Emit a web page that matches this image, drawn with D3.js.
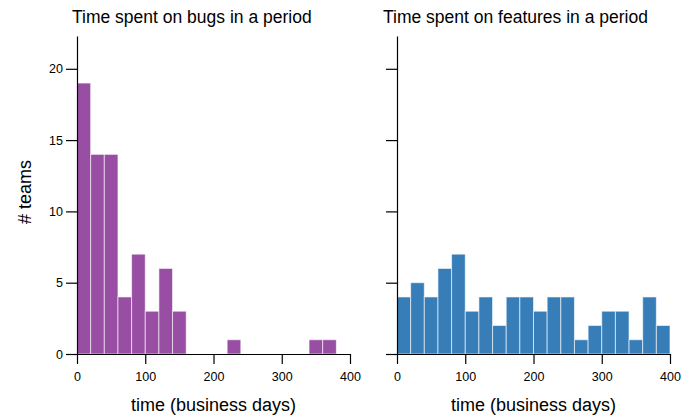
<!DOCTYPE html>
<html>
<head>
<meta charset="utf-8">
<script src="https://cdn.jsdelivr.net/npm/d3@7"></script>
<style>
  body { margin: 0; background: #fff; }
  text { font-family: "Liberation Sans", Arial, sans-serif; fill: #000; }
</style>
</head>
<body>
<svg id="chart" width="682" height="417"></svg>
<script>
// bin edges (20 business days each)
var binStarts = [0, 20, 40, 60, 80, 100, 120, 140, 160, 180, 200, 220, 240, 260, 280, 300, 320, 340, 360, 380];
var binWidth = 20;
var bugCounts = [19, 14, 14, 4, 7, 3, 6, 3, 0, 0, 0, 1, 0, 0, 0, 0, 0, 1, 1, 0];
var featureCounts = [4, 5, 4, 6, 7, 3, 4, 2, 4, 4, 3, 4, 4, 1, 2, 3, 3, 1, 4, 2];
var xTicks = [0, 100, 200, 300, 400];
var yTicks = [0, 5, 10, 15, 20];

var panels = [
    { title: "Time spent on bugs in a period", counts: bugCounts, color: "#984ea3", left: 77, titleX: 72, labels: true },
    { title: "Time spent on features in a period", counts: featureCounts, color: "#377eb8", left: 397, titleX: 383, labels: false }
];

var svg = d3.select("#chart");
var plotW = 273, plotTop = 36, plotBottom = 354;

var y = d3.scaleLinear().domain([0, 22.3]).range([plotBottom, plotTop]);

panels.forEach(function (p) {
    var x = d3.scaleLinear().domain([0, 400]).range([p.left, p.left + plotW]);
    var g = svg.append("g");

    g.selectAll("rect")
        .data(p.counts.map(function (c, i) { return { x0: binStarts[i], n: c }; }).filter(function (d) { return d.n > 0; }))
        .enter().append("rect")
        .attr("x", function (d) { return x(d.x0); })
        .attr("width", function (d) { return x(d.x0 + binWidth) - x(d.x0); })
        .attr("y", function (d) { return y(d.n); })
        .attr("height", function (d) { return plotBottom - y(d.n); })
        .style("fill", p.color)
        .attr("stroke", "#fff")
        .attr("stroke-opacity", 0.6)
        .attr("stroke-width", 1);

    var xAxis = g.append("g")
        .attr("transform", "translate(0," + plotBottom + ")")
        .call(d3.axisBottom(x).tickValues(xTicks).tickSize(10).tickSizeOuter(0).tickPadding(8));
    xAxis.selectAll("text").style("font-size", "12.5px");

    var yAxis = g.append("g")
        .attr("transform", "translate(" + p.left + ",0)")
        .call(d3.axisLeft(y).tickValues(yTicks).tickSize(11).tickSizeOuter(0).tickPadding(3)
            .tickFormat(p.labels ? d3.format("d") : function () { return ""; }));
    yAxis.selectAll("text").style("font-size", "12.5px");

    g.selectAll(".domain, .tick line").attr("stroke", "#000").attr("stroke-width", 1.2);

    g.append("text")
        .attr("x", p.titleX)
        .attr("y", 23)
        .style("font-size", "17.5px")
        .text(p.title);

    g.append("text")
        .attr("x", p.left + plotW / 2)
        .attr("y", 411)
        .attr("text-anchor", "middle")
        .style("font-size", "18px")
        .text("time (business days)");
});

svg.append("text")
    .attr("transform", "translate(31,192) rotate(-90)")
    .attr("text-anchor", "middle")
    .style("font-size", "18px")
    .text("# teams");
</script>
</body>
</html>
